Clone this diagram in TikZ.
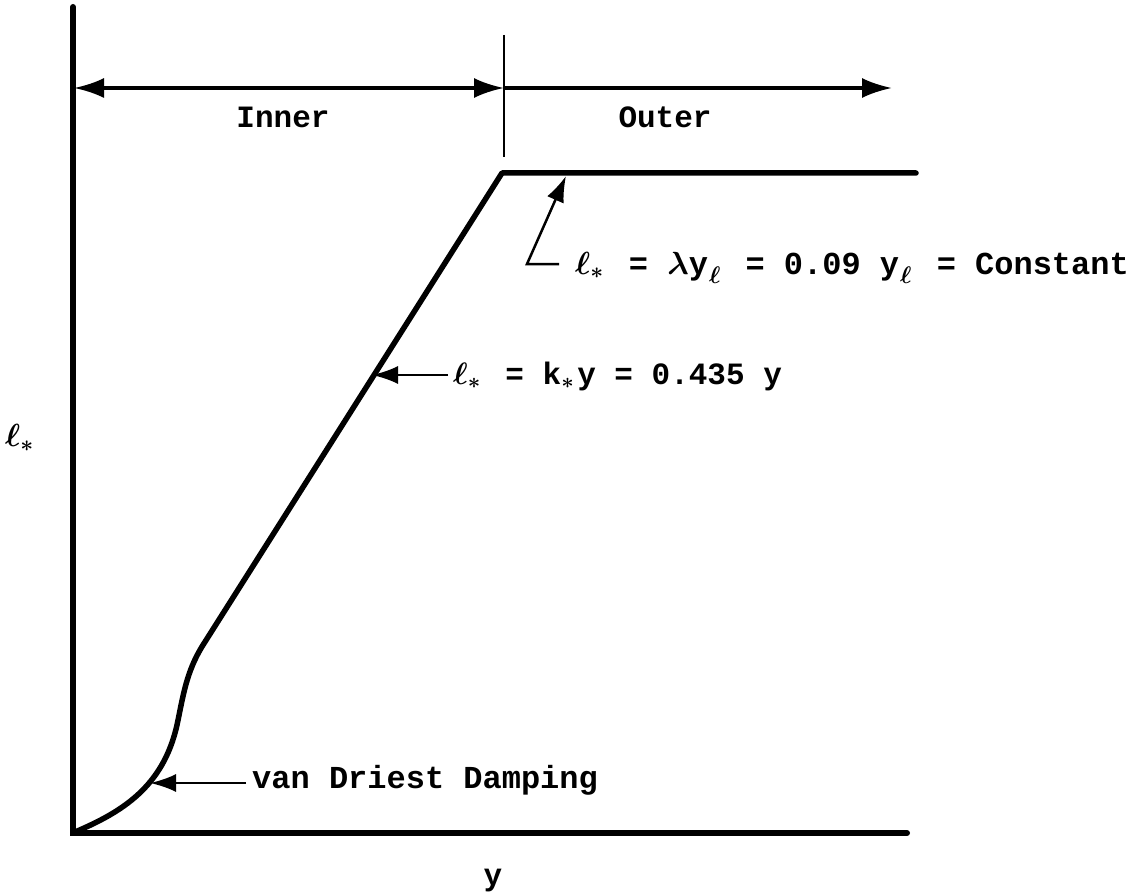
\documentclass[tikz,border=0pt]{standalone}
\usepackage{fix-cm}
\usepackage{fontspec}
\setmainfont{Liberation Mono}
\usetikzlibrary{arrows.meta}
\newcommand{\subell}{\kern1pt\raisebox{-9pt}{\fontsize{24}{28}\selectfont$\ell$}\kern6pt}
\tikzset{
  axis/.style={line width=6pt, line cap=round},
  curve/.style={line width=5.5pt, line join=round, line cap=round},
  dimline/.style={line width=3.5pt, -{Latex[length=30pt,width=20pt]}},
  dimarr/.style={line width=3.5pt, {Latex[length=30pt,width=20pt]}-{Latex[length=30pt,width=20pt]}},
  divider/.style={line width=2pt},
  arr/.style={line width=2.5pt, -{Latex[length=26pt,width=18pt]}},
  lbl/.style={font=\fontsize{31}{36}\selectfont\bfseries\boldmath, inner sep=0pt},
  biglbl/.style={font=\fontsize{32}{36}\selectfont\bfseries\boldmath, inner sep=0pt},
}
\begin{document}
\begin{tikzpicture}[x=1pt,y=-1pt]
\useasboundingbox (0,0) rectangle (1139,893);
% axes
\coordinate (O) at (73,833);
\coordinate (ytop) at (73,7);
\coordinate (xend) at (907,833);
\draw[axis] (ytop) -- (O) -- (xend);
% divider and region arrows
\coordinate (dtop) at (504,35);
\coordinate (dbot) at (504,157);
\draw[divider] (dtop) -- (dbot);
\coordinate (aL) at (74,88);
\coordinate (aM) at (504,88);
\coordinate (aR) at (892,88);
\draw[dimarr] (aL) -- (aM);
\draw[dimline] (aM) -- (aR);
\node[lbl, anchor=base] (inner) at (283,128) {Inner};
\node[lbl, anchor=base] (outer) at (665,128) {Outer};
% curve
\coordinate (c0) at (75,832);
\coordinate (c1) at (177,725);
\coordinate (c2) at (203,645);
\coordinate (c3) at (502,173);
\coordinate (c4) at (916,173);
\draw[curve] (c0) .. controls (122,812) and (163,787) .. (c1)
  .. controls (183,697) and (186,672) .. (c2) -- (c3) -- (c4);
% axis labels
\node[biglbl, anchor=west] (ell) at (5,438) {$\ell_*$};
\node[lbl, anchor=base] (ylab) at (493,885) {y};
% labels with arrows
\node[biglbl, anchor=base west] (vd) at (252,788) {van Driest Damping};
\coordinate (vdtip) at (150,783);
\draw[arr] ([xshift=-6pt,yshift=5pt]vd.base west) -- (vdtip);
\node[lbl, anchor=base west] (ky) at (453,384) {$\ell_*$\kern6pt{} = k$_*$\kern3pt y = 0.435 y};
\coordinate (kytip) at (372,375);
\draw[arr] ([xshift=-5pt,yshift=9pt]ky.base west) -- (kytip);
\node[biglbl, anchor=base west] (cst) at (575,274) {$\ell_*$\kern6pt{} = $\lambda$y\subell{} = 0.09 y\subell{} = Constant};
\coordinate (celb) at (527,264);
\coordinate (ctip) at (566,176);
\draw[arr] ([xshift=-16pt,yshift=10pt]cst.base west) -- (celb) -- (ctip);
\end{tikzpicture}
\end{document}
